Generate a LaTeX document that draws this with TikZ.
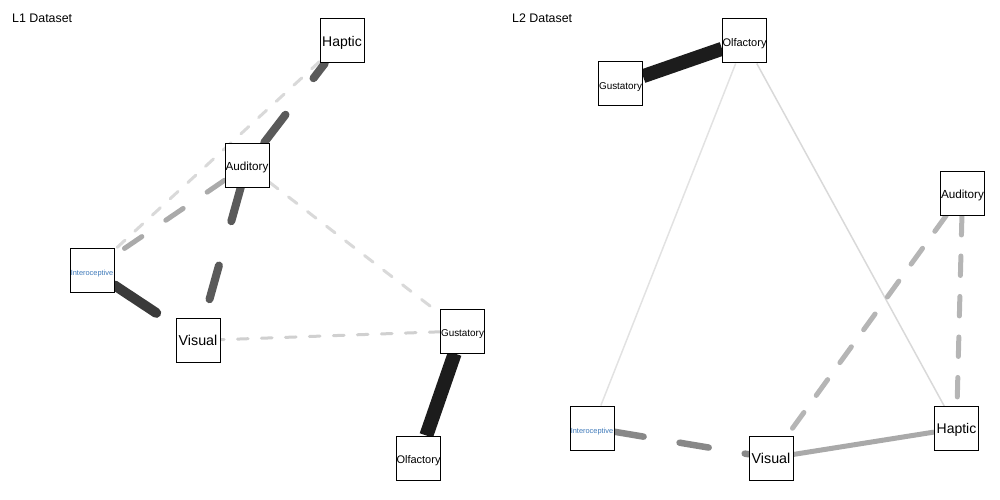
\documentclass[tikz,border=0pt]{standalone}
\usepackage{fontspec}
\setmainfont{Liberation Sans}
\usetikzlibrary{backgrounds}
\definecolor{cdark}{HTML}{1C1C1C}
\definecolor{cthree}{HTML}{3A3A3A}
\definecolor{cfive}{HTML}{5A5A5A}
\definecolor{ceight}{HTML}{888888}
\definecolor{cmid}{HTML}{A9A9A9}
\definecolor{caa}{HTML}{AAAAAA}
\definecolor{cb5}{HTML}{B5B5B5}
\definecolor{clight}{HTML}{D0D0D0}
\definecolor{cpale}{HTML}{D9D9D9}
\definecolor{cpaler}{HTML}{E2E2E2}
\definecolor{intero}{RGB}{60,120,185}
\begin{document}
\begin{tikzpicture}[x=1pt,y=-1pt,
  box/.style={draw=black,line width=1pt,fill=white,minimum width=44pt,minimum height=44pt,
    inner sep=0pt,text height=0.716em+3pt,text depth=0pt},
  fs/.style={font=\fontsize{#1}{#1}\selectfont},
  title/.style={anchor=base west,inner sep=0pt,font=\fontsize{12.4}{12.4}\selectfont},
  thinlight/.style={line width=3pt,line cap=round,dash pattern=on 10.7pt off 13.3pt},
  thickdark/.style={line width=8pt,line cap=round,dash pattern=on 35pt off 46pt,draw=cfive},
  solidthick/.style={line width=14pt,draw=cdark},
  middash/.style={line width=5pt,line cap=round,dash pattern=on 19.5pt off 21pt,draw=cb5}]
\useasboundingbox (0,0) rectangle (1000,500);

% titles
\node[title] (t1) at (12,23) {L1 Dataset};
\node[title] (t2) at (512,23) {L2 Dataset};

% left panel nodes
\node[box,fs=14] (LH) at (342,41) {Haptic};
\node[box,fs=11.7] (LA) at (247,165) {Auditory};
\node[box,fs=7.4,text=intero] (LI) at (92,270.5) {Interoceptive};
\node[box,fs=14.3] (LV) at (198,340.5) {Visual};
\node[box,fs=9.9] (LG) at (462.5,331) {Gustatory};
\node[box,fs=11] (LO) at (418.5,458) {Olfactory};

% right panel nodes
\node[box,fs=11] (RO) at (744.5,41) {Olfactory};
\node[box,fs=9.9] (RG) at (620.5,84) {Gustatory};
\node[box,fs=11.7] (RA) at (962.5,193) {Auditory};
\node[box,fs=7.4,text=intero] (RI) at (592,428) {Interoceptive};
\node[box,fs=14.3] (RV) at (771,458) {Visual};
\node[box,fs=14] (RH) at (956.5,428.5) {Haptic};

\begin{scope}[on background layer]
  % left panel edges
  \draw[thinlight,draw=cpale] (LH) -- (LI);
  \draw[thinlight,draw=cpale] (LA) -- (LG);
  \draw[thinlight,draw=clight] (LG) -- (LV);
  \draw[line width=5pt,line cap=round,dash pattern=on 21pt off 29pt,draw=caa] (LA) -- (LI);
  \draw[thickdark] (LA) -- (LH);
  \draw[thickdark] (LA) -- (LV);
  \draw[line width=10pt,line cap=round,dash pattern=on 50pt off 50pt,draw=cthree] (LI) -- (LV);
  \draw[solidthick] (LG) -- (LO);
  % right panel edges
  \draw[line width=1.5pt,draw=cpaler] (RO) -- (RI);
  \draw[line width=1.5pt,draw=cpale] (RO) -- (RH);
  \draw[solidthick] (RG) -- (RO);
  \draw[middash] (RA) -- (RV);
  \draw[middash] (RA) -- (RH);
  \draw[line width=6.5pt,line cap=round,dash pattern=on 29.5pt off 36.5pt,draw=ceight] (RI) -- (RV);
  \draw[line width=5pt,draw=cmid] (RV) -- (RH);
\end{scope}
\end{tikzpicture}
\end{document}
